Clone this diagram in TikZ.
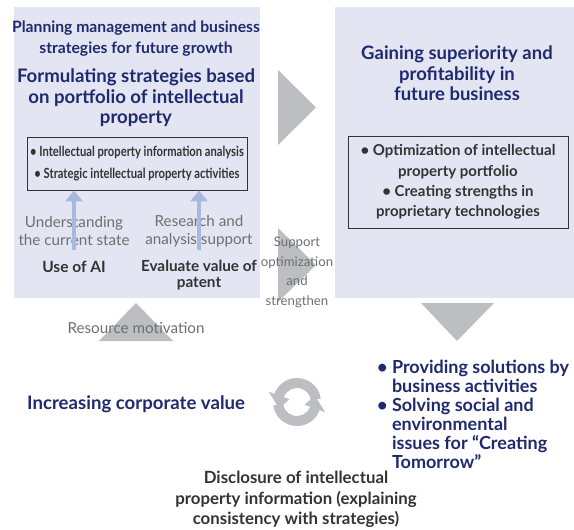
\documentclass[tikz,border=0pt]{standalone}
\usepackage{fontspec}
\setmainfont{Lato}
\newfontfamily\narrowfont[FakeStretch=0.8]{Lato}
\usepackage{tikz}
\usetikzlibrary{positioning,arrows.meta}
\definecolor{ipblue}{HTML}{1F2A6E}
\definecolor{panelbg}{HTML}{E3E6F2}
\definecolor{trigray}{HTML}{BDBEC1}
\definecolor{softgray}{HTML}{6F6F71}
\definecolor{darktext}{HTML}{333333}
\definecolor{arrowblue}{HTML}{A8B9DE}
\tikzstyle{panel} = [fill=panelbg,draw=none,inner sep=0pt]
\tikzstyle{tri} = [fill=trigray,draw=none]
\tikzstyle{infobox} = [draw=darktext,line width=0.8pt,inner sep=0pt]
\tikzstyle{heading} = [text=ipblue,font=\bfseries,align=center,inner sep=0pt]
\tikzstyle{note} = [text=softgray,align=center,inner sep=0pt]
\tikzstyle{label} = [text=darktext,font=\bfseries,align=center,inner sep=0pt]
\tikzstyle{uparrow} = [draw=arrowblue,line width=4pt,-{Triangle[length=11pt,width=17pt]}]

\begin{document}
\begin{tikzpicture}[x=1pt,y=-1pt]
  \useasboundingbox (0,0) rectangle (574,530);
  % panels
  \node[panel,minimum width=246pt,minimum height=291pt,anchor=north west] (planpanel) at (14,7) {};
  \node[panel,minimum width=239pt,minimum height=291pt,anchor=north west] (gainpanel) at (335,7) {};

  % big gray triangles
  \path[tri] (278,70) -- (316,107.5) -- (278,145) -- cycle;
  \path[tri] (278,228) -- (316,265) -- (278,302) -- cycle;
  \path[tri] (136,303) -- (173,341) -- (99,341) -- cycle;
  \path[tri] (421,303) -- (494,303) -- (457,341) -- cycle;

  % left panel
  \node[heading,font=\fontsize{15.7}{21}\selectfont\bfseries] (plantitle) at (136,38.5)
    {Planning management and business\\strategies for future growth};
  \node[heading,font=\fontsize{18.6}{20.5}\selectfont\bfseries] (formulate) at (136,98)
    {Formulating strategies based\\on portfolio of intellectual\\property};
  \node[infobox,minimum width=220pt,minimum height=53pt] (ipbox) at (137,163.5) {};
  \node[label,font=\fontsize{14}{22}\narrowfont\bfseries] (iptext) at (ipbox.center)
    {\textbullet\ Intellectual property information analysis\\\textbullet\ Strategic intellectual property activities};
  \node[note,font=\fontsize{15.2}{18}\selectfont] (understand) at (74,231)
    {Understanding\\the current state};
  \node[note,font=\fontsize{15.2}{18}\selectfont] (research) at (199,231)
    {Research and\\analysis support};
  \node[label,font=\fontsize{15.5}{16}\selectfont\bfseries] (useai) at (74,267) {Use of AI};
  \node[label,font=\fontsize{15.3}{16.5}\selectfont\bfseries] (evaluate) at (199,275)
    {Evaluate value of\\patent};
  \coordinate (aifoot) at (74,250);
  \coordinate (patentfoot) at (199,250);
  \draw[uparrow] (aifoot) -- (aifoot |- ipbox.south);
  \draw[uparrow] (patentfoot) -- (patentfoot |- ipbox.south);

  % right panel
  \node[heading,font=\fontsize{18.5}{20.5}\selectfont\bfseries] (gaintitle) at (457,73.5)
    {Gaining superiority and\\profitability in\\future business};
  \node[infobox,minimum width=220pt,minimum height=92pt] (portbox) at (458,182) {};
  \node[label,font=\fontsize{15}{20.3}\selectfont\bfseries] (porttext) at (portbox.center)
    {\textbullet\ Optimization of intellectual\\property portfolio\\\textbullet\ Creating strengths in\\proprietary technologies};

  % between and below
  \node[note,font=\fontsize{13.2}{19.7}\selectfont] (support) at (297,272.5)
    {Support\\optimization\\and\\strengthen};
  \node[note,font=\fontsize{15.2}{16}\selectfont] (resource) at (136,328) {Resource motivation};
  \node[heading,font=\fontsize{18.6}{19}\selectfont\bfseries,anchor=west] (corpvalue) at (27,404)
    {Increasing corporate value};
  \node[heading,font=\fontsize{18}{19}\selectfont\bfseries,anchor=west,align=left] (solutions) at (377,414.5)
    {\textbullet\ Providing solutions by\\\hphantom{\textbullet\ }business activities\\\textbullet\ Solving social and\\\hphantom{\textbullet\ }environmental\\\hphantom{\textbullet\ }issues for “Creating\\\hphantom{\textbullet\ }Tomorrow”};
  \node[label,font=\fontsize{16.8}{20.5}\selectfont\bfseries] (disclosure) at (296,499.5)
    {Disclosure of intellectual\\property information (explaining\\consistency with strategies)};

  % cycle icon
  \coordinate (cyc) at (297,402);
  \fill[trigray] ([shift={(-8:24)}]cyc) arc (-8:-160:24)
    -- ([shift={(-160:30)}]cyc) -- ([shift={(-200:19)}]cyc) -- ([shift={(-160:8)}]cyc)
    -- ([shift={(-160:14)}]cyc) arc (-160:-8:14) -- cycle;
  \fill[trigray] ([shift={(-188:24)}]cyc) arc (-188:-340:24)
    -- ([shift={(-340:30)}]cyc) -- ([shift={(-380:19)}]cyc) -- ([shift={(-340:8)}]cyc)
    -- ([shift={(-340:14)}]cyc) arc (-340:-188:14) -- cycle;
\end{tikzpicture}
\end{document}
